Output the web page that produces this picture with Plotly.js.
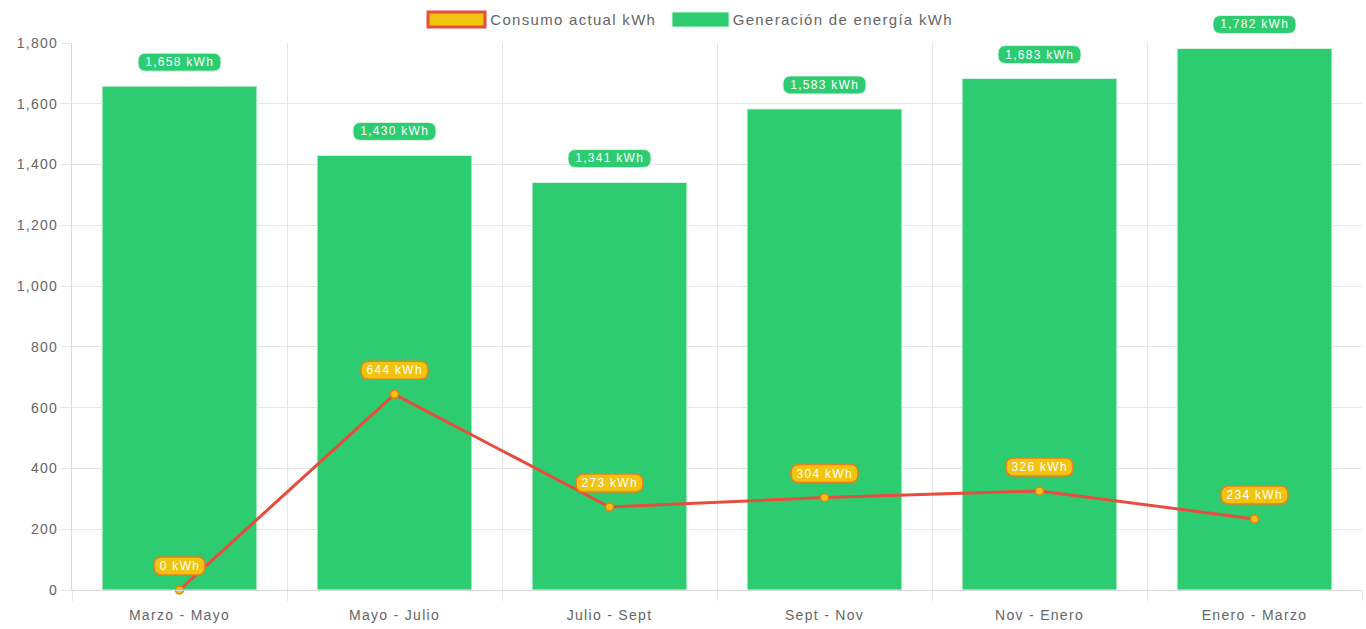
<!DOCTYPE html>
<html><head><meta charset="utf-8">
<script src="https://cdn.plot.ly/plotly-3.0.1.min.js"></script>
<style>html,body{margin:0;padding:0;background:#fff}#chart{width:1366px;height:629px}
#chart text{letter-spacing:1.3px}</style>
</head><body><div id="chart"></div>
<script>
const categories = ["Marzo - Mayo","Mayo - Julio","Julio - Sept","Sept - Nov","Nov - Enero","Enero - Marzo"];
const generacion = [1658,1430,1341,1583,1683,1782];
const consumo = [0,644,273,304,326,234];
const yTickVals = [0,200,400,600,800,1000,1200,1400,1600,1800];
const yMax = 1800;

const GREEN = "#2ecc71", YELLOW = "#f1c40f", RED = "#e74c3c", ORANGE = "#e67e22";
const FONT = "Liberation Sans, Arial, sans-serif";
const W = 1366, H = 629, ML = 72, MR = 4, MT = 43, MB = 39;
const PW = W-ML-MR, PH = H-MT-MB;
const px2x = p => (p-ML)/PW, py2y = p => (H-MB-p)/PH;
const fmt = v => v.toLocaleString("en-US") + " kWh";

function pill(i, v, fill, border, bw) {
  const n = fmt(v).length;
  const w = 8*n + 11, h = 18, r = 8, c = 24;
  const x0 = -w/2, x1 = w/2, y0 = c - h/2, y1 = c + h/2;
  const path = `M${x0+r},${y0} L${x1-r},${y0} Q${x1},${y0} ${x1},${y0+r} L${x1},${y1-r} Q${x1},${y1} ${x1-r},${y1} L${x0+r},${y1} Q${x0},${y1} ${x0},${y1-r} L${x0},${y0+r} Q${x0},${y0} ${x0+r},${y0} Z`;
  return {type:"path", xref:"x", yref:"paper", xsizemode:"pixel", ysizemode:"pixel",
    xanchor:i, yanchor:v/yMax, path:path, fillcolor:fill, line:{color:border,width:bw}, layer:"above"};
}

const shapes = [], annotations = [];
const labFont = {family:FONT, size:12, color:"#fff"};
generacion.forEach((v,i)=>{
  shapes.push(pill(i, v, GREEN, "#d5f5e3", 1));
  annotations.push({x:i, y:v, xref:"x", yref:"y", text:fmt(v), showarrow:false, yshift:24, font:labFont});
});
consumo.forEach((v,i)=>{
  shapes.push(pill(i, v, YELLOW, ORANGE, 1.5));
  annotations.push({x:i, y:v, xref:"x", yref:"y", text:fmt(v), showarrow:false, yshift:24, font:labFont});
});

// custom legend (paper coordinates)
shapes.push({type:"rect", xref:"paper", yref:"paper", x0:px2x(428), x1:px2x(485), y0:py2y(27), y1:py2y(12),
  fillcolor:YELLOW, line:{color:RED, width:3}});
shapes.push({type:"rect", xref:"paper", yref:"paper", x0:px2x(672), x1:px2x(729), y0:py2y(27), y1:py2y(12),
  fillcolor:GREEN, line:{color:"#d5f5e3", width:1}});
const legFont = {family:FONT, size:15, color:"#666"};
annotations.push({xref:"paper", yref:"paper", x:px2x(573), y:py2y(19.5), xanchor:"center", yanchor:"middle",
  text:"Consumo actual kWh", showarrow:false, font:legFont});
annotations.push({xref:"paper", yref:"paper", x:px2x(843), y:py2y(19.5), xanchor:"center", yanchor:"middle",
  text:"Generación de energía kWh", showarrow:false, font:legFont});

const data = [
  {type:"bar", x:categories, y:generacion, name:"Generación de energía kWh",
   marker:{color:GREEN, line:{color:"#d5f5e3", width:1}}, hoverinfo:"x+y", showlegend:false},
  {type:"scatter", mode:"lines+markers", x:categories, y:consumo, name:"Consumo actual kWh",
   line:{color:RED, width:3}, marker:{color:YELLOW, size:8, line:{color:ORANGE, width:1.5}},
   cliponaxis:false, showlegend:false}
];

const layout = {
  width:W, height:H, margin:{l:ML, r:MR, t:MT, b:MB},
  paper_bgcolor:"#fff", plot_bgcolor:"#fff",
  font:{family:FONT, size:13, color:"#666"},
  bargap:0.28, showlegend:false,
  xaxis:{type:"category", tickson:"boundaries", showgrid:true, gridcolor:"#e6e6e6", gridwidth:1,
    ticks:"outside", ticklen:10, tickcolor:"#e6e6e6", showline:true, linecolor:"#d9d9d9",
    ticklabelstandoff:12, tickfont:{family:FONT, size:14, color:"#666"}, fixedrange:true},
  yaxis:{range:[0,yMax], tickvals:yTickVals, tickformat:",d", showgrid:true, gridcolor:"#e6e6e6",
    ticks:"outside", ticklen:10, tickcolor:"#e6e6e6", showline:true, linecolor:"#d9d9d9",
    zeroline:false, tickfont:{family:FONT, size:14, color:"#666"}, fixedrange:true},
  shapes:shapes, annotations:annotations
};
Plotly.newPlot("chart", data, layout, {displayModeBar:false, staticPlot:true});
</script></body></html>
